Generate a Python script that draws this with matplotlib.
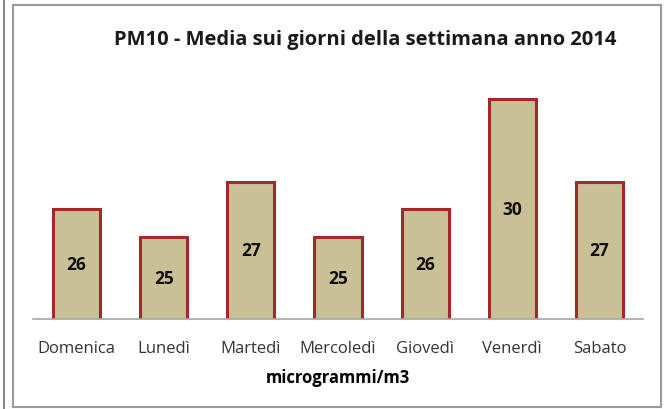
import matplotlib.pyplot as plt
from matplotlib.lines import Line2D
from matplotlib.patches import Rectangle

giorni = ["Domenica", "Lunedì", "Martedì", "Mercoledì", "Giovedì", "Venerdì", "Sabato"]
media_pm10 = [26, 25, 27, 25, 26, 30, 27]

titolo = "PM10 - Media sui giorni della settimana anno 2014"
etichetta_x = "microgrammi/m3"

W, H = 664, 410
plt.rcParams['font.family'] = ['Open Sans', 'DejaVu Sans']

fig = plt.figure(figsize=(W / 100, H / 100), dpi=100)
ax = fig.add_axes([33 / W, 1 - 320 / H, 610 / W, 275 / H])

x = range(len(giorni))
bars = ax.bar(x, media_pm10, width=0.54, bottom=0, color="#C9C096",
              edgecolor="#A3282B", linewidth=2.2)
ax.set_ylim(22, 32)
ax.set_xlim(-0.5, len(giorni) - 0.5)

for xi, v in zip(x, media_pm10):
    ax.text(xi, (22 + v) / 2, str(v), ha="center", va="center",
            fontsize=12.5, fontweight="bold", color="#111111")

ax.set_xticks(list(x))
ax.set_xticklabels(giorni, fontsize=12, color="#333333")
ax.tick_params(axis="x", length=0, pad=15)
ax.set_yticks([])
for s in ["top", "left", "right"]:
    ax.spines[s].set_visible(False)
ax.spines["bottom"].set_color("#A6A6A6")
ax.spines["bottom"].set_linewidth(1.2)

ax.set_xlabel(etichetta_x, fontsize=12, fontweight="bold", labelpad=9)

fig.text(365 / W, 1 - 40 / H, titolo, ha="center", va="center",
         fontsize=14.5, fontweight="bold", color="#1a1a1a")

# cornice esterna
fig.add_artist(Line2D([4 / W, 4 / W], [0, 1], color="#8C8C8C", linewidth=1.5))
fig.add_artist(Rectangle((13 / W, 1 - 408 / H), (661 - 13) / W, (408 - 6) / H,
                         fill=False, edgecolor="#9A9A9A", linewidth=1.5,
                         transform=fig.transFigure))

fig.savefig("out.png", dpi=100)
